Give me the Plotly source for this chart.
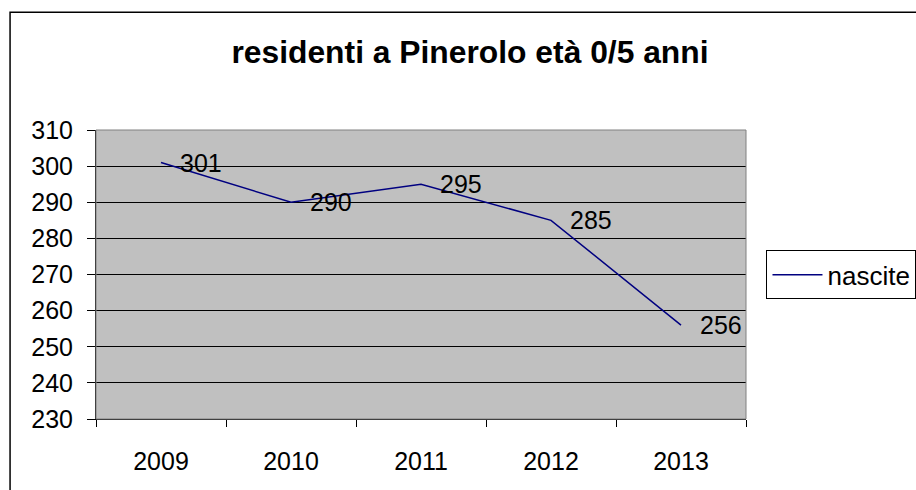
import plotly.graph_objects as go

years = ["2009", "2010", "2011", "2012", "2013"]
nascite = [301, 290, 295, 285, 256]
series_name = "nascite"
title_text = "residenti a Pinerolo età 0/5 anni"

W, H = 916, 490
L, R, T, B = 96, 916 - 746.5, 130, 490 - 419.5
pw, ph = W - L - R, H - T - B

def px2x(px):
    return (px - L) / pw

def px2y(py):
    return (H - B - py) / ph

FONT = "Liberation Sans, Arial, sans-serif"

fig = go.Figure()
fig.add_trace(go.Scatter(
    x=years, y=nascite, mode="lines", name=series_name,
    line=dict(color="#000080", width=1.5),
))

for i, v in enumerate(nascite):
    fig.add_annotation(x=i, y=v, xref="x", yref="y", text=str(v),
                       showarrow=False, xanchor="left", yanchor="middle",
                       xshift=17, font=dict(size=25, color="black", family=FONT))

# outer chart frame
fig.add_shape(type="rect", xref="paper", yref="paper",
              x0=px2x(10), x1=px2x(2000), y0=px2y(12), y1=px2y(1200),
              line=dict(color="black", width=1.5), fillcolor="rgba(0,0,0,0)",
              layer="below")

fig.update_layout(
    width=W, height=H,
    margin=dict(l=L, r=R, t=T, b=B, pad=0, autoexpand=False),
    paper_bgcolor="white", plot_bgcolor="#C0C0C0",
    font=dict(family=FONT, size=25, color="black"),
    title=dict(text="<b>" + title_text + "</b>", x=470 / W, xanchor="center",
               y=1 - 52 / H, yanchor="middle",
               font=dict(size=31.8, color="black", family=FONT)),
    showlegend=True,
    legend=dict(x=px2x(767), xanchor="left", y=px2y(275), yanchor="middle",
                bordercolor="black", borderwidth=1, bgcolor="white",
                font=dict(size=26, color="black", family=FONT),
                itemwidth=50),
    xaxis=dict(type="category", range=[-0.5, 4.5], tickson="boundaries",
               ticks="outside", ticklen=7, tickcolor="black", tickwidth=1,
               showline=True, linecolor="black", linewidth=1,
               showgrid=False, zeroline=False, mirror=False,
               tickfont=dict(size=25), ticklabelstandoff=20,
               automargin=False),
    yaxis=dict(range=[230, 310], dtick=10, tick0=230,
               ticks="outside", ticklen=8, tickcolor="black", tickwidth=1,
               showline=True, linecolor="black", linewidth=1,
               showgrid=True, gridcolor="black", gridwidth=1, zeroline=False,
               tickfont=dict(size=25), ticklabelstandoff=9,
               automargin=False),
)

# gray border of plot area (top and right)
fig.add_shape(type="rect", xref="paper", yref="paper", x0=0, x1=1, y0=0, y1=1,
              line=dict(color="#808080", width=1), layer="above")

fig.write_html("out.html", config={"displayModeBar": False},
               post_script="document.body.style.margin='0';document.body.style.overflow='hidden';")
